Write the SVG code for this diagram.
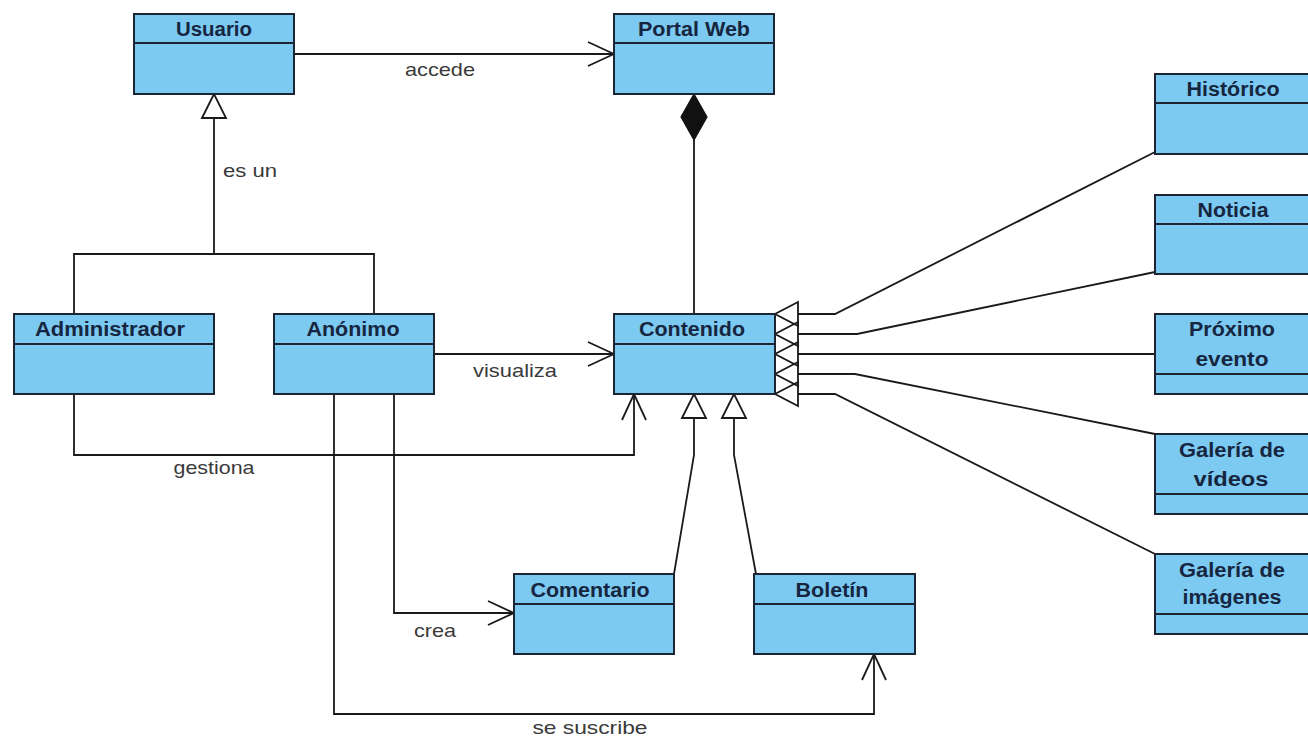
<svg xmlns="http://www.w3.org/2000/svg" width="1308" height="738" viewBox="0 0 1308 738">
  <style>
    .box { fill: #7cc9f1; stroke: #1c2531; stroke-width: 2; }
    .div { stroke: #1c2531; stroke-width: 2; }
    .name { font-family: "Liberation Sans", Arial, sans-serif; font-weight: bold; font-size: 20px; fill: #172640; text-anchor: middle; }
    .lbl { font-family: "Liberation Sans", Arial, sans-serif; font-size: 18.5px; fill: #3a3a3a; text-anchor: middle; }
    .edge { fill: none; stroke: #1a1a1a; stroke-width: 1.8; }
    .head { fill: none; stroke: #1a1a1a; stroke-width: 1.8; }
  </style>
  <defs>
    <marker id="open" markerUnits="userSpaceOnUse" viewBox="-2 -14 30 28" refX="26" refY="0" markerWidth="30" markerHeight="28" orient="auto">
      <path d="M0,-12 L26,0 L0,12" fill="none" stroke="#1a1a1a" stroke-width="1.8"/>
    </marker>
    <marker id="gen" markerUnits="userSpaceOnUse" viewBox="-2 -14 28 28" refX="24" refY="0" markerWidth="28" markerHeight="28" orient="auto">
      <path d="M0,-12 L24,0 L0,12 Z" fill="#fff" stroke="#1a1a1a" stroke-width="1.8"/>
    </marker>
  </defs>
  <rect width="1308" height="738" fill="#fff"/>

  <!-- connectors -->
  <g id="connectors">
    <!-- accede -->
    <path class="edge" d="M294,54 H614" marker-end="url(#open)"/>
    <text class="lbl" x="440" y="76" textLength="70" lengthAdjust="spacingAndGlyphs">accede</text>
    <!-- es un (generalization to Usuario) -->
    <path class="edge" d="M74,314 V254 H374 V314"/>
    <path class="edge" d="M214,254 V94" marker-end="url(#gen)"/>
    <text class="lbl" x="250" y="177" textLength="54" lengthAdjust="spacingAndGlyphs">es un</text>
    <!-- composition Portal Web / Contenido -->
    <path class="edge" d="M694,314 V140"/>
    <polygon points="694,94 707,117 694,140 681,117" fill="#111" stroke="#111" stroke-width="1.2"/>
    <!-- visualiza -->
    <path class="edge" d="M434,354 H614" marker-end="url(#open)"/>
    <text class="lbl" x="515" y="377" textLength="84" lengthAdjust="spacingAndGlyphs">visualiza</text>
    <!-- gestiona -->
    <path class="edge" d="M74,394 V455 H634 V394" marker-end="url(#open)"/>
    <text class="lbl" x="214" y="474" textLength="81" lengthAdjust="spacingAndGlyphs">gestiona</text>
    <!-- crea -->
    <path class="edge" d="M394,394 V613 H514" marker-end="url(#open)"/>
    <text class="lbl" x="435" y="637" textLength="42" lengthAdjust="spacingAndGlyphs">crea</text>
    <!-- se suscribe -->
    <path class="edge" d="M334,394 V714 H874 V654" marker-end="url(#open)"/>
    <text class="lbl" x="590" y="734" textLength="115" lengthAdjust="spacingAndGlyphs">se suscribe</text>
    <!-- Comentario / Boletín generalizations -->
    <path class="edge" d="M674,574 L694,455 V394" marker-end="url(#gen)"/>
    <path class="edge" d="M756,574 L734,455 V394" marker-end="url(#gen)"/>
    <!-- right-hand generalizations -->
    <g class="head">
      <path d="M798,302 L775,314 L798,326 Z"/>
      <path d="M798,322 L775,334 L798,346 Z"/>
      <path d="M798,342 L775,354 L798,366 Z"/>
      <path d="M798,362 L775,374 L798,386 Z"/>
      <path d="M798,382 L775,394 L798,406 Z"/>
    </g>
    <path class="edge" d="M798,314 H835 L1155,152"/>
    <path class="edge" d="M798,334 H857 L1155,272"/>
    <path class="edge" d="M798,354 H1155"/>
    <path class="edge" d="M798,374 H855 L1155,434"/>
    <path class="edge" d="M798,394 H835 L1155,554"/>
  </g>

  <!-- classes -->
  <g id="usuario">
    <rect class="box" x="134" y="14" width="160" height="80"/>
    <line class="div" x1="134" y1="43" x2="294" y2="43"/>
    <text class="name" x="214" y="36" textLength="76" lengthAdjust="spacingAndGlyphs">Usuario</text>
  </g>
  <g id="portal-web">
    <rect class="box" x="614" y="14" width="160" height="80"/>
    <line class="div" x1="614" y1="43" x2="774" y2="43"/>
    <text class="name" x="694" y="36" textLength="112" lengthAdjust="spacingAndGlyphs">Portal Web</text>
  </g>
  <g id="administrador">
    <rect class="box" x="14" y="314" width="200" height="80"/>
    <line class="div" x1="14" y1="344" x2="214" y2="344"/>
    <text class="name" x="110" y="336" textLength="150" lengthAdjust="spacingAndGlyphs">Administrador</text>
  </g>
  <g id="anonimo">
    <rect class="box" x="274" y="314" width="160" height="80"/>
    <line class="div" x1="274" y1="344" x2="434" y2="344"/>
    <text class="name" x="353" y="336" textLength="93" lengthAdjust="spacingAndGlyphs">Anónimo</text>
  </g>
  <g id="contenido">
    <rect class="box" x="614" y="314" width="161" height="80"/>
    <line class="div" x1="614" y1="344" x2="775" y2="344"/>
    <text class="name" x="692" y="336" textLength="106" lengthAdjust="spacingAndGlyphs">Contenido</text>
  </g>
  <g id="comentario">
    <rect class="box" x="514" y="574" width="160" height="80"/>
    <line class="div" x1="514" y1="604" x2="674" y2="604"/>
    <text class="name" x="590" y="597" textLength="119" lengthAdjust="spacingAndGlyphs">Comentario</text>
  </g>
  <g id="boletin">
    <rect class="box" x="754" y="574" width="161" height="80"/>
    <line class="div" x1="754" y1="604" x2="915" y2="604"/>
    <text class="name" x="832" y="597" textLength="73" lengthAdjust="spacingAndGlyphs">Boletín</text>
  </g>
  <g id="historico">
    <rect class="box" x="1155" y="74" width="160" height="80"/>
    <line class="div" x1="1155" y1="103" x2="1315" y2="103"/>
    <text class="name" x="1233" y="96" textLength="93" lengthAdjust="spacingAndGlyphs">Histórico</text>
  </g>
  <g id="noticia">
    <rect class="box" x="1155" y="195" width="160" height="79"/>
    <line class="div" x1="1155" y1="224" x2="1315" y2="224"/>
    <text class="name" x="1233" y="217" textLength="71" lengthAdjust="spacingAndGlyphs">Noticia</text>
  </g>
  <g id="proximo-evento">
    <rect class="box" x="1155" y="314" width="160" height="80"/>
    <line class="div" x1="1155" y1="374" x2="1315" y2="374"/>
    <text class="name" x="1232" y="336" textLength="86" lengthAdjust="spacingAndGlyphs">Próximo</text>
    <text class="name" x="1232" y="366" textLength="73" lengthAdjust="spacingAndGlyphs">evento</text>
  </g>
  <g id="galeria-videos">
    <rect class="box" x="1155" y="434" width="160" height="80"/>
    <line class="div" x1="1155" y1="494" x2="1315" y2="494"/>
    <text class="name" x="1232" y="457" textLength="106" lengthAdjust="spacingAndGlyphs">Galería de</text>
    <text class="name" x="1231" y="486" textLength="75" lengthAdjust="spacingAndGlyphs">vídeos</text>
  </g>
  <g id="galeria-imagenes">
    <rect class="box" x="1155" y="554" width="160" height="80"/>
    <line class="div" x1="1155" y1="614" x2="1315" y2="614"/>
    <text class="name" x="1232" y="577" textLength="106" lengthAdjust="spacingAndGlyphs">Galería de</text>
    <text class="name" x="1232" y="604" textLength="99" lengthAdjust="spacingAndGlyphs">imágenes</text>
  </g>
</svg>
